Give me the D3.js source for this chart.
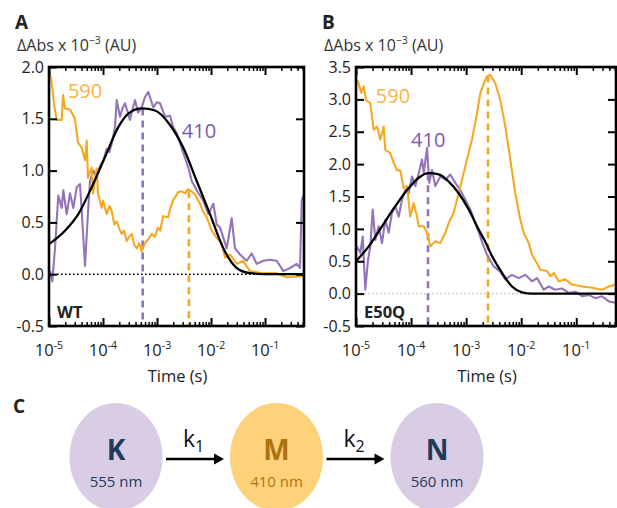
<!DOCTYPE html>
<html>
<head>
<meta charset="utf-8">
<script src="https://cdn.jsdelivr.net/npm/d3@7"></script>
<style>
body { margin: 0; background: #fff; }
svg { display: block; font-family: "Open Sans", "DejaVu Sans", sans-serif; }
</style>
</head>
<body>
<svg id="fig" width="617" height="508"></svg>
<script>
// time axis shared by both panels (seconds)
var timeDomain = [1e-5, 0.527];
var decades = [1e-5, 1e-4, 1e-3, 1e-2, 1e-1];

// ---------- panel A (WT), points are [log10 time, dAbs x 1e-3] ----------
var wt590 = [[-4.99,1.93],[-4.963,1.9],[-4.9,1.62],[-4.857,1.49],[-4.765,1.49],[-4.741,1.73],[-4.704,1.6],[-4.611,1.59],
  [-4.519,1.5],[-4.463,1.27],[-4.394,1.22],[-4.333,1.1],[-4.302,1.29],[-4.278,0.93],[-4.209,1.03],[-4.185,0.78],
  [-4.117,1.02],[-4.093,0.78],[-4.024,0.64],[-4.0,0.71],[-3.931,0.58],[-3.88,0.66],[-3.839,0.61],[-3.79,0.48],[-3.746,0.51],
  [-3.7,0.44],[-3.654,0.39],[-3.61,0.42],[-3.561,0.32],[-3.52,0.36],[-3.469,0.39],[-3.42,0.28],[-3.376,0.25],[-3.33,0.3],[-3.283,0.22],
  [-3.222,0.3],[-3.16,0.34],[-3.098,0.39],[-3.04,0.36],[-2.981,0.45],[-2.94,0.42],[-2.889,0.56],[-2.796,0.55],[-2.75,0.64],[-2.704,0.71],
  [-2.611,0.79],[-2.543,0.8],[-2.48,0.78],[-2.43,0.82],[-2.389,0.81],[-2.296,0.77],[-2.204,0.68],[-2.14,0.6],[-2.08,0.55],
  [-1.987,0.42],[-1.894,0.35],[-1.802,0.3],[-1.741,0.16],[-1.648,0.19],[-1.524,0.1],[-1.407,0.13],[-1.278,0.03],
  [-1.037,0.01],[-0.783,0.01],[-0.598,-0.03],[-0.296,-0.02]];
var wt410 = [[-4.981,0.03],[-4.939,-0.07],[-4.889,0.25],[-4.828,0.76],[-4.765,0.64],[-4.735,0.81],[-4.672,0.58],[-4.611,0.78],
  [-4.55,0.64],[-4.487,0.84],[-4.426,0.87],[-4.394,0.61],[-4.333,0.08],[-4.283,0.55],[-4.241,0.9],[-4.18,1.0],[-4.13,0.95],[-4.087,1.0],
  [-4.04,1.06],[-3.994,1.1],[-3.931,1.21],[-3.88,1.18],[-3.839,1.26],[-3.778,1.42],[-3.746,1.68],[-3.685,1.52],[-3.64,1.6],[-3.593,1.65],[-3.5,1.49],
  [-3.45,1.6],[-3.407,1.68],[-3.35,1.56],[-3.283,1.61],[-3.222,1.71],[-3.161,1.76],[-3.069,1.61],[-3.0,1.66],[-2.944,1.65],[-2.852,1.52],
  [-2.759,1.53],[-2.7,1.42],[-2.635,1.36],[-2.513,1.17],[-2.42,1.03],[-2.357,0.9],[-2.265,0.81],[-2.143,0.71],[-2.05,0.58],
  [-1.957,0.68],[-1.894,0.48],[-1.833,0.45],[-1.772,0.35],[-1.709,0.25],[-1.617,0.54],[-1.556,0.25],[-1.463,0.19],
  [-1.339,0.13],[-1.246,0.2],[-1.154,0.1],[-1.031,0.13],[-0.907,0.14],[-0.783,0.13],[-0.661,0.03],[-0.537,0.06],
  [-0.413,0.1],[-0.352,0.06],[-0.32,0.71],[-0.291,0.76]];
var wtFit = [[-5.0,0.29],[-4.704,0.42],[-4.457,0.58],[-4.209,0.84],[-3.963,1.13],[-3.717,1.42],[-3.531,1.55],[-3.283,1.6],
  [-3.037,1.58],[-2.759,1.44],[-2.513,1.22],[-2.265,0.9],[-2.019,0.58],[-1.772,0.25],[-1.524,0.06],[-1.278,0.01],
  [-0.907,0.0],[-0.28,0.0]];
var wtMarkers = [["410",-3.265,1.6],["590",-2.41,0.8]];

// ---------- panel B (E50Q) ----------
var e50q590 = [[-4.995,3.3],[-4.964,3.28],[-4.904,3.1],[-4.86,3.2],[-4.818,2.99],[-4.74,2.94],[-4.679,2.53],[-4.619,2.58],
  [-4.559,2.38],[-4.497,2.58],[-4.468,2.22],[-4.377,2.17],[-4.315,2.02],[-4.255,1.91],[-4.195,1.9],[-4.134,1.63],
  [-4.074,1.66],[-4.014,1.19],[-3.952,1.4],[-3.892,1.19],[-3.861,1.04],[-3.77,1.04],[-3.71,0.94],[-3.651,0.73],
  [-3.56,0.81],[-3.469,0.78],[-3.378,0.94],[-3.316,1.09],[-3.226,1.25],[-3.166,1.45],[-3.075,1.76],[-2.984,2.07],
  [-2.893,2.38],[-2.802,2.79],[-2.742,3.1],[-2.652,3.3],[-2.621,3.35],[-2.561,3.38],[-2.47,3.25],[-2.379,2.99],
  [-2.288,2.58],[-2.198,2.07],[-2.107,1.55],[-2.016,1.14],[-1.954,0.94],[-1.863,0.78],[-1.803,0.6],[-1.713,0.47],
  [-1.653,0.37],[-1.531,0.35],[-1.471,0.27],[-1.409,0.32],[-1.318,0.19],[-1.199,0.22],[-1.077,0.14],[-0.895,0.11],
  [-0.714,0.09],[-0.532,0.06],[-0.41,0.11],[-0.29,0.14]];
var e50q410 = [[-4.982,0.73],[-4.922,0.63],[-4.878,0.88],[-4.831,0.06],[-4.782,0.52],[-4.74,0.73],[-4.697,1.3],[-4.649,0.83],
  [-4.588,1.04],[-4.528,0.78],[-4.468,1.14],[-4.406,0.94],[-4.346,1.25],[-4.286,1.35],[-4.224,1.19],[-4.165,1.45],
  [-4.105,1.6],[-4.043,1.55],[-3.983,1.81],[-3.923,1.66],[-3.861,1.86],[-3.801,2.07],[-3.77,1.86],[-3.71,2.25],
  [-3.669,1.71],[-3.62,1.91],[-3.56,1.66],[-3.469,1.81],[-3.378,1.76],[-3.287,1.84],[-3.197,1.71],[-3.106,1.6],
  [-3.015,1.45],[-2.924,1.3],[-2.833,1.09],[-2.742,0.88],[-2.712,0.8],[-2.621,0.6],[-2.499,0.42],[-2.379,0.34],
  [-2.288,0.22],[-2.167,0.29],[-2.045,0.24],[-1.925,0.29],[-1.803,0.19],[-1.713,0.24],[-1.591,0.06],[-1.5,0.11],
  [-1.38,0.06],[-1.259,0.08],[-1.137,0.01],[-1.017,0.03],[-0.895,-0.04],[-0.774,-0.02],[-0.654,-0.07],[-0.532,-0.04],
  [-0.41,-0.12],[-0.29,-0.14]];
var e50qFit = [[-5.0,0.5],[-4.769,0.73],[-4.528,1.04],[-4.286,1.35],[-4.043,1.63],[-3.861,1.79],[-3.68,1.86],[-3.498,1.84],
  [-3.316,1.73],[-3.135,1.55],[-2.953,1.3],[-2.772,0.99],[-2.652,0.8],[-2.53,0.58],[-2.348,0.32],[-2.167,0.11],
  [-1.985,0.02],[-1.803,0.0],[-0.278,0.0]];
var e50qMarkers = [["410",-3.692,1.86],["590",-2.603,3.37]];

// ---------- panel C ----------
var states = ["K", "M", "N"];
var wavelengths = ["555 nm", "410 nm", "560 nm"];
var rates = ["1", "2"];

var col = {
  "590": "#F7A823", "410": "#9474B8", fit: "#000",
  label590: "#F8B445", label410: "#7E5AAB"
};

var svg = d3.select('#fig');
var defs = svg.append('defs');
var plotTop = 67, plotBottom = 326;
var FONT = '"Open Sans", "DejaVu Sans", sans-serif';

function supLabel(sel, base, sup, rest, supSize) {
    sel.append('tspan').text(base);
    sel.append('tspan').attr('dy', -7).attr('font-size', supSize).text(sup);
    if (rest) sel.append('tspan').attr('dy', 7).text(rest);
}

function drawPanel(p) {
    var x = d3.scaleLog().domain(timeDomain).range([p.left, p.right]);
    var y = d3.scaleLinear().domain(p.yDomain).range([plotBottom, plotTop]);
    var tx = function(d) { return x(Math.pow(10, d[0])); };
    var g = svg.append('g');

    defs.append('clipPath').attr('id', 'clip' + p.id)
        .append('rect')
        .attr('x', p.left).attr('y', plotTop)
        .attr('width', p.right - p.left).attr('height', plotBottom - plotTop);

    // panel letter + y title
    g.append('text').attr('x', p.left - 34).attr('y', 29)
        .attr('font-size', 19).attr('font-weight', 700).attr('fill', '#222')
        .text(p.letter);
    supLabel(g.append('text').attr('x', p.left - 32).attr('y', 51)
        .attr('font-size', 16).attr('fill', '#333'), '\u0394Abs x 10', '\u22123', ' (AU)', 10.5);

    var plot = g.append('g').attr('clip-path', 'url(#clip' + p.id + ')');

    // zero line
    plot.append('line')
        .attr('x1', p.left).attr('x2', p.right)
        .attr('y1', y(0)).attr('y2', y(0))
        .attr('stroke', p.zeroColor).attr('stroke-width', 1.6)
        .attr('stroke-dasharray', '1.6,2.4');

    // dashed peak markers
    plot.selectAll('.marker')
        .data(p.markers)
        .enter().append('line')
        .attr('x1', function(d) { return x(Math.pow(10, d[1])); })
        .attr('x2', function(d) { return x(Math.pow(10, d[1])); })
        .attr('y1', function(d) { return y(d[2]); })
        .attr('y2', plotBottom)
        .attr('stroke', function(d) { return col[d[0]]; })
        .attr('stroke-width', 2.6)
        .attr('stroke-dasharray', '7,5');

    var line = d3.line().x(tx).y(function(d) { return y(d[1]); });
    var smooth = d3.line().x(tx).y(function(d) { return y(d[1]); }).curve(d3.curveMonotoneX);

    plot.append('path').datum(p.s410).attr('d', line)
        .attr('fill', 'none').attr('stroke', col['410']).attr('stroke-width', 2.1).attr('stroke-linejoin', 'round');
    plot.append('path').datum(p.s590).attr('d', line)
        .attr('fill', 'none').attr('stroke', col['590']).attr('stroke-width', 2.1).attr('stroke-linejoin', 'round');
    plot.append('path').datum(p.fit).attr('d', smooth)
        .attr('fill', 'none').attr('stroke', col.fit).attr('stroke-width', 2.3);

    // series labels
    g.append('text').attr('x', x(Math.pow(10, p.lab590[0]))).attr('y', y(p.lab590[1]))
        .attr('font-size', 20).attr('fill', col.label590).text('590');
    g.append('text').attr('x', x(Math.pow(10, p.lab410[0]))).attr('y', y(p.lab410[1]))
        .attr('font-size', 20).attr('fill', col.label410).text('410');
    g.append('text').attr('x', p.left + 8).attr('y', 318)
        .attr('font-size', 16.5).attr('font-weight', 700).attr('fill', '#222').text(p.name);

    // axes: ticks on all four sides pointing in
    var minor = x.ticks().filter(function(t) { return decades.indexOf(t) < 0; });
    function xAxes(axisFn, yPos) {
        g.append('g').attr('transform', 'translate(0,' + yPos + ')')
            .call(axisFn(x).tickValues(minor).tickSize(-4).tickFormat(''))
            .call(function(s) { s.select('.domain').remove(); s.selectAll('line').attr('stroke-width', 1.5); });
        g.append('g').attr('transform', 'translate(0,' + yPos + ')')
            .call(axisFn(x).tickValues(decades).tickSize(-8).tickFormat(''))
            .call(function(s) { s.select('.domain').remove(); s.selectAll('line').attr('stroke-width', 2); });
    }
    xAxes(d3.axisBottom, plotBottom);
    xAxes(d3.axisTop, plotTop);

    g.append('g').attr('transform', 'translate(' + p.left + ',0)')
        .call(d3.axisLeft(y).tickValues(p.yTicks).tickSize(-8).tickPadding(5)
            .tickFormat(function(v) { return v.toFixed(1); }))
        .call(function(s) {
            s.select('.domain').remove();
            s.selectAll('line').attr('stroke-width', 2);
            s.selectAll('text').attr('font-size', 16).attr('fill', '#222').attr('font-family', FONT);
        });
    g.append('g').attr('transform', 'translate(' + p.right + ',0)')
        .call(d3.axisRight(y).tickValues(p.yTicks).tickSize(-8).tickFormat(''))
        .call(function(s) { s.select('.domain').remove(); s.selectAll('line').attr('stroke-width', 2); });

    // decade labels 10^n
    g.selectAll('.xlab')
        .data(decades)
        .enter().append('text')
        .attr('x', function(d) { return x(d); })
        .attr('y', 356)
        .attr('text-anchor', 'middle')
        .attr('font-size', 16.5).attr('fill', '#222')
        .each(function(d) {
            supLabel(d3.select(this), '10', '-' + Math.round(-Math.log10(d)), null, 10.5);
        });

    g.append('text').attr('x', (p.left + p.right) / 2 + 1).attr('y', 382)
        .attr('text-anchor', 'middle').attr('font-size', 16.5).attr('fill', '#222')
        .text('Time (s)');

    // frame
    g.append('rect')
        .attr('x', p.left).attr('y', plotTop)
        .attr('width', p.right - p.left).attr('height', plotBottom - plotTop)
        .attr('fill', 'none').attr('stroke', '#000').attr('stroke-width', 2.6);
}

drawPanel({
    id: 'A', letter: 'A', name: 'WT', left: 49, right: 304,
    yDomain: [-0.5, 2.0], yTicks: [-0.5, 0, 0.5, 1.0, 1.5, 2.0],
    s590: wt590, s410: wt410, fit: wtFit, markers: wtMarkers,
    lab590: [-4.65, 1.7], lab410: [-2.54, 1.31], zeroColor: '#000'
});
drawPanel({
    id: 'B', letter: 'B', name: 'E50Q', left: 356, right: 616,
    yDomain: [-0.5, 3.5], yTicks: [-0.5, 0, 0.5, 1.0, 1.5, 2.0, 2.5, 3.0, 3.5],
    s590: e50q590, s410: e50q410, fit: e50qFit, markers: e50qMarkers,
    lab590: [-4.64, 2.95], lab410: [-4.0, 2.27], zeroColor: '#c8c8c8'
});

// ---------- panel C: K -> M -> N scheme ----------
var sx = d3.scalePoint().domain(states).range([116, 437]);
var fills = { K: '#D9CDE5', M: '#FDD27A', N: '#D9CDE5' };
var inks = { K: '#1E3A5F', M: '#B07210', N: '#1E3A5F' };
var cy = 457;

svg.append('text').attr('x', 13).attr('y', 413)
    .attr('font-size', 19).attr('font-weight', 700).attr('fill', '#222').text('C');

var node = svg.selectAll('.state').data(states).enter().append('g')
    .attr('transform', function(d) { return 'translate(' + sx(d) + ',' + cy + ')'; });
node.append('ellipse').attr('rx', 46.5).attr('ry', 54)
    .attr('fill', function(d) { return fills[d]; });
node.append('text').attr('y', 3).attr('text-anchor', 'middle')
    .attr('font-size', 28).attr('font-weight', 700)
    .attr('fill', function(d) { return inks[d]; })
    .text(function(d) { return d; });
node.append('text').attr('y', 30).attr('text-anchor', 'middle')
    .attr('font-size', 15)
    .attr('fill', function(d) { return inks[d]; })
    .text(function(d, i) { return wavelengths[i]; });

var arrows = svg.selectAll('.arrow').data(rates).enter().append('g')
    .attr('transform', function(d, i) { return 'translate(' + sx(states[i]) + ',' + (cy + 2) + ')'; });
arrows.append('line').attr('x1', 50).attr('x2', 100)
    .attr('stroke', '#000').attr('stroke-width', 2.6);
arrows.append('path').attr('d', 'M98,-5.5L108,0L98,5.5Z').attr('fill', '#000');
var klab = arrows.append('text').attr('x', 67).attr('y', -12)
    .attr('font-size', 23).attr('fill', '#111');
klab.append('tspan').text('k');
klab.append('tspan').attr('dy', 5).attr('font-size', 16).text(function(d) { return d; });
</script>
</body>
</html>
